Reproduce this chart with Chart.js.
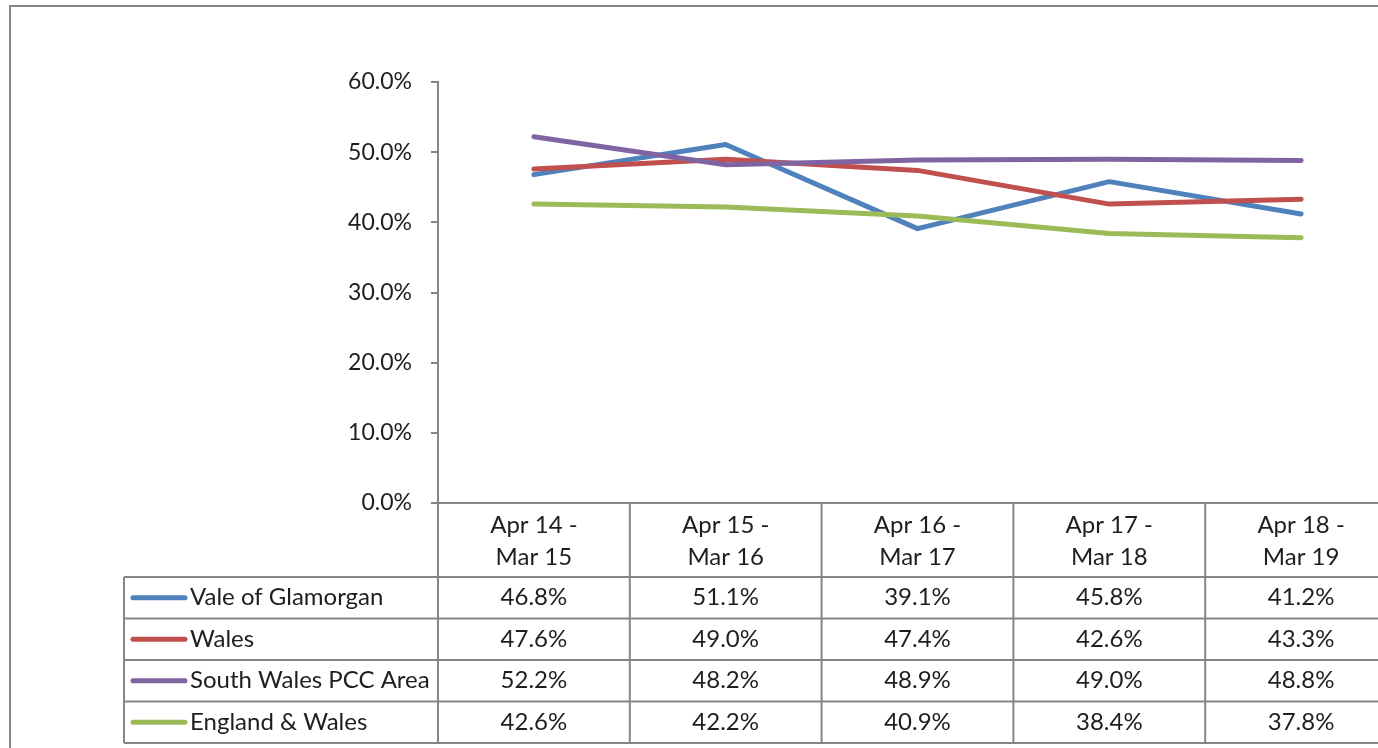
<!DOCTYPE html>
<html>
<head>
<meta charset="utf-8">
<script src="https://cdn.jsdelivr.net/npm/chart.js@4/dist/chart.umd.min.js"></script>
<style>
  html, body { margin: 0; padding: 0; background: #fff; overflow: hidden; }
  #wrap { width: 1400px; height: 760px; }
</style>
</head>
<body>
<div id="wrap"><canvas id="myChart" width="1400" height="760"></canvas></div>
<script>
var periods = [["Apr 14 -", "Mar 15"], ["Apr 15 -", "Mar 16"], ["Apr 16 -", "Mar 17"], ["Apr 17 -", "Mar 18"], ["Apr 18 -", "Mar 19"]];
var seriesNames = ["Vale of Glamorgan", "Wales", "South Wales PCC Area", "England & Wales"];
var valeValues = [46.8, 51.1, 39.1, 45.8, 41.2];
var walesValues = [47.6, 49.0, 47.4, 42.6, 43.3];
var southWalesValues = [52.2, 48.2, 48.9, 49.0, 48.8];
var englandWalesValues = [42.6, 42.2, 40.9, 38.4, 37.8];
var seriesColors = ["#4F81BD", "#C0504D", "#8064A2", "#9BBB59"];

var FONT = "Lato";
var GRAY = "#868686";
var TEXT = "#1e1e1e";

document.addEventListener("DOMContentLoaded", function () {
    var allValues = [valeValues, walesValues, southWalesValues, englandWalesValues];

    var datasets = seriesNames.map(function (name, i) {
        return {
            label: name,
            data: allValues[i],
            borderColor: seriesColors[i],
            backgroundColor: seriesColors[i],
            borderWidth: 5,
            pointRadius: 0,
            tension: 0,
            borderJoinStyle: "round",
            borderCapStyle: "round",
            order: 4 - i
        };
    });

    // frame + data table under the plot
    var tablePlugin = {
        id: "dataTable",
        afterDraw: function (chart) {
            var ctx = chart.ctx;
            var x = chart.scales.x;
            var area = chart.chartArea;
            var half = (x.getPixelForValue(1) - x.getPixelForValue(0)) / 2;
            var headerH = 74;
            var rowH = 41.5;
            var legendLeft = 124;
            var headTop = area.bottom;
            var rowsTop = headTop + headerH;
            var tableBottom = rowsTop + rowH * seriesNames.length;
            var bounds = [];
            for (var j = 0; j <= periods.length; j++) {
                bounds.push(x.getPixelForValue(0) - half + j * 2 * half);
            }

            ctx.save();
            ctx.strokeStyle = GRAY;
            ctx.lineWidth = 2;

            // outer frame
            ctx.strokeRect(10, 6, 1500, 800);

            // vertical column lines
            bounds.forEach(function (bx) {
                ctx.beginPath();
                ctx.moveTo(bx, headTop);
                ctx.lineTo(bx, tableBottom);
                ctx.stroke();
            });
            ctx.beginPath();
            ctx.moveTo(legendLeft, rowsTop);
            ctx.lineTo(legendLeft, tableBottom);
            ctx.stroke();

            // horizontal row lines
            for (var r = 0; r <= seriesNames.length; r++) {
                var ry = rowsTop + r * rowH;
                ctx.beginPath();
                ctx.moveTo(legendLeft, ry);
                ctx.lineTo(bounds[bounds.length - 1], ry);
                ctx.stroke();
            }

            ctx.fillStyle = TEXT;
            ctx.font = "24px " + FONT;
            ctx.textAlign = "center";
            ctx.textBaseline = "middle";

            // header labels
            periods.forEach(function (p, i) {
                var cx = x.getPixelForValue(i);
                ctx.fillText(p[0], cx, headTop + 22);
                ctx.fillText(p[1], cx, headTop + 54);
            });

            // rows
            seriesNames.forEach(function (name, s) {
                var cy = rowsTop + s * rowH + rowH / 2;
                ctx.strokeStyle = seriesColors[s];
                ctx.lineWidth = 5;
                ctx.lineCap = "round";
                ctx.beginPath();
                ctx.moveTo(133, cy);
                ctx.lineTo(185, cy);
                ctx.stroke();

                ctx.textAlign = "left";
                ctx.fillText(name, 190, cy);
                ctx.textAlign = "center";
                allValues[s].forEach(function (v, i) {
                    ctx.fillText(v.toFixed(1) + "%", x.getPixelForValue(i), cy);
                });
            });
            ctx.restore();
        }
    };

    var ctx = document.getElementById("myChart").getContext("2d");
    // eslint-disable-next-line no-undef,no-new
    new Chart(ctx, {
        type: "line",
        data: {
            labels: periods.map(function (p) { return p.join(" "); }),
            datasets: datasets
        },
        options: {
            responsive: false,
            animation: false,
            layout: {
                padding: { top: 82, right: 3, bottom: 257, left: 0 }
            },
            plugins: {
                legend: { display: false },
                tooltip: { enabled: false }
            },
            scales: {
                x: {
                    offset: true,
                    grid: { display: false },
                    ticks: { display: false },
                    border: { display: true, color: GRAY, width: 2 },
                    afterFit: function (scale) { scale.height = 0; }
                },
                y: {
                    min: 0,
                    max: 60,
                    ticks: {
                        stepSize: 10,
                        padding: 19,
                        color: TEXT,
                        font: { family: FONT, size: 23 },
                        callback: function (v) { return v.toFixed(1) + "%"; }
                    },
                    grid: {
                        drawOnChartArea: false,
                        drawTicks: true,
                        tickLength: 7,
                        color: GRAY,
                        lineWidth: 2
                    },
                    border: { display: true, color: GRAY, width: 2 },
                    afterFit: function (scale) { scale.width = 438; }
                }
            }
        },
        plugins: [tablePlugin]
    });
});
</script>
</body>
</html>
